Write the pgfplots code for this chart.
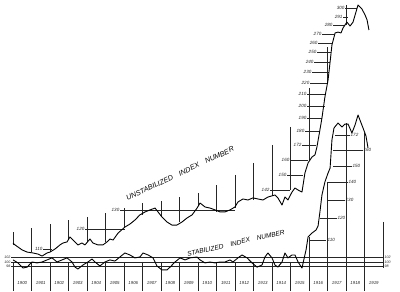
\documentclass[border=0pt]{standalone}
\usepackage{fontspec}
\setmainfont{Liberation Sans}
\usepackage{pgfplots}
\pgfplotsset{compat=1.18}
\begin{document}
\begin{tikzpicture}
\tikzset{
  lab/.style={font=\fontsize{4.6}{5}\selectfont\itshape, inner sep=0.4pt, text=black!85},
  yr/.style={font=\fontsize{4.4}{5}\selectfont\itshape, inner sep=0pt, text=black!85},
}
\begin{axis}[
  width=400bp, height=292bp, scale only axis,
  xmin=1899.297, xmax=1920.919,
  ymode=log, ymin=87.78, ymax=312.2,
  hide axis, clip=false,
]
% invisible frame to fix the picture size
\addplot[draw=none] coordinates {(1899.297,87.78) (1920.919,312.2)};

% band lines 102 / 100 / 98
\addplot[black!85, line width=0.45bp] coordinates {(1899.89,102) (1920.0,102)};
\addplot[black!85, line width=0.8bp] coordinates {(1899.89,100) (1920.0,100)};
\addplot[black!85, line width=0.45bp] coordinates {(1899.89,98) (1920.0,98)};

% year separators and ladder verticals
\addplot[black!85, line width=0.5bp, empty line=jump] table {
x y
1900.0 113.9
1900.0 107.7

1901.0 115.9
1901.0 104.4

1902.0 117.9
1902.0 104.4

1903.0 120.0
1903.0 110.0

1904.0 121.6
1904.0 109.1

1905.0 123.7
1905.0 109.1

1906.0 126.4
1906.0 115.9

1907.0 129.2
1907.0 122.7

1908.0 130.3
1908.0 122.1

1909.0 132.6
1909.0 119.0

1910.0 135.0
1910.0 128.1

1911.0 139.7
1911.0 124.3

1912.0 146.0
1912.0 126.4

1913.0 153.8
1913.0 130.9

1914.0 166.3
1914.0 133.2

1915.0 179.8
1915.0 136.7

1916.0 213.0
1916.0 155.8

1917.0 254.4
1917.0 218.6

1918.0 305.5
1918.0 280.0

1900.0 100.0
1900.0 88.2

1901.0 100.0
1901.0 88.2

1902.0 100.0
1902.0 88.2

1903.0 100.0
1903.0 88.2

1904.0 100.0
1904.0 88.2

1905.0 100.0
1905.0 88.2

1906.0 100.0
1906.0 88.2

1907.0 100.0
1907.0 88.2

1908.0 100.0
1908.0 88.2

1909.0 100.0
1909.0 88.2

1910.0 100.0
1910.0 88.2

1911.0 100.0
1911.0 88.2

1912.0 100.0
1912.0 88.2

1913.0 100.0
1913.0 88.2

1914.0 100.0
1914.0 88.2

1915.0 100.0
1915.0 88.2

1916.0 111.5
1916.0 88.2

1917.0 141.0
1917.0 88.2

1918.0 182.9
1918.0 88.2

1919.0 175.2
1919.0 88.2

1920.0 119.0
1920.0 97.4
};

% ladder horizontals
\addplot[black!85, line width=0.45bp, empty line=jump] table {
x y
1901.62 105.8
1902.11 105.8

1903.89 115.4
1906.05 115.4

1905.78 125.4
1912.00 125.4

1913.89 136.7
1914.97 136.7

1914.81 146.0
1915.68 146.0

1914.97 155.8
1915.95 155.8

1915.62 166.3
1916.38 166.3

1915.78 176.7
1916.59 176.7

1915.89 187.0
1916.70 187.0

1915.89 196.9
1916.86 196.9

1915.89 207.5
1916.92 207.5

1916.05 217.7
1917.03 217.7

1916.16 228.3
1917.08 228.3

1916.27 238.4
1917.14 238.4

1916.43 249.0
1917.19 249.0

1916.49 259.0
1917.24 259.0

1916.70 269.3
1917.35 269.3

1917.30 280.0
1917.95 280.0

1917.84 289.8
1918.11 289.8

1917.95 301.5
1918.59 301.5

1916.05 110.0
1916.92 110.0

1916.59 121.1
1917.51 121.1

1916.97 130.9
1917.95 130.9

1916.97 141.6
1918.11 141.6

1917.30 151.8
1918.32 151.8

1917.41 173.6
1918.22 173.6

1917.30 162.7
1918.92 162.7
};

% unstabilized index number
\addplot[black, line width=0.9bp, line join=round] table {
x y
1900.00 108.6
1900.11 107.7
1900.49 105.4
1900.76 104.4
1901.08 104.0
1901.35 103.5
1901.57 102.6
1901.84 104.0
1902.00 104.4
1902.27 105.8
1902.54 107.7
1902.70 108.6
1902.92 109.1
1903.08 111.5
1903.24 110.0
1903.51 107.7
1903.73 108.6
1903.89 107.7
1904.16 110.5
1904.32 108.6
1904.59 107.7
1904.86 107.7
1905.08 109.1
1905.24 110.5
1905.41 110.0
1905.68 113.4
1906.05 116.4
1906.32 117.9
1906.59 120.0
1906.86 122.7
1907.14 124.3
1907.41 125.4
1907.68 126.4
1907.84 124.3
1908.05 121.6
1908.32 119.0
1908.59 117.4
1908.86 117.4
1909.14 119.0
1909.41 121.1
1909.68 122.7
1909.95 126.4
1910.11 129.2
1910.38 127.0
1910.65 126.4
1910.92 125.4
1911.19 124.3
1911.46 124.3
1911.73 125.4
1912.00 127.0
1912.16 129.8
1912.43 131.5
1912.70 130.9
1912.97 132.1
1913.24 131.5
1913.51 130.9
1913.78 132.6
1914.16 133.8
1914.32 132.1
1914.54 128.1
1914.70 132.6
1914.86 130.9
1915.08 135.5
1915.24 137.9
1915.41 136.7
1915.62 135.5
1915.78 147.2
1915.95 153.8
1916.16 157.8
1916.32 159.2
1916.43 164.9
1916.59 177.5
1916.70 187.0
1916.86 204.8
1917.03 220.5
1917.14 238.4
1917.24 256.7
1917.41 270.5
1917.57 271.5
1917.73 270.5
1917.84 276.4
1918.05 283.6
1918.22 278.8
1918.38 283.6
1918.65 305.5
1918.86 300.2
1919.03 292.5
1919.14 286.2
1919.24 274.0
};

% stabilized index number (and its rise after 1915)
\addplot[black, line width=0.9bp, line join=round] table {
x y
1900.00 100.9
1900.27 99.6
1900.54 97.4
1900.76 97.8
1901.03 100.0
1901.30 99.6
1901.57 100.0
1901.84 100.9
1902.11 101.8
1902.38 100.0
1902.65 100.9
1902.92 101.8
1903.19 100.0
1903.35 97.8
1903.51 97.0
1903.78 98.7
1904.05 100.0
1904.27 101.3
1904.43 100.0
1904.70 98.3
1904.97 100.0
1905.24 100.9
1905.51 100.4
1905.78 102.2
1906.05 104.0
1906.32 103.1
1906.59 101.8
1906.86 102.2
1907.03 104.0
1907.30 103.1
1907.57 101.8
1907.78 98.3
1908.05 96.6
1908.32 96.6
1908.49 97.8
1908.76 100.0
1909.03 101.8
1909.30 100.9
1909.57 101.8
1909.95 102.2
1910.11 100.9
1910.38 99.6
1910.65 100.0
1910.92 99.6
1911.19 100.0
1911.46 100.0
1911.73 100.9
1911.89 100.0
1912.16 101.8
1912.38 103.1
1912.65 101.8
1912.92 99.6
1913.19 97.8
1913.46 98.7
1913.62 102.2
1913.78 104.0
1914.00 101.8
1914.16 98.7
1914.32 97.8
1914.54 100.0
1914.70 104.0
1914.86 101.8
1915.08 103.1
1915.24 103.1
1915.41 100.0
1915.62 97.4
1915.84 105.4
1915.95 111.5
1916.16 113.4
1916.38 114.9
1916.49 116.9
1916.59 124.3
1916.70 133.8
1916.86 141.6
1917.03 147.2
1917.14 150.4
1917.24 169.9
1917.35 179.0
1917.57 182.9
1917.78 179.8
1917.95 182.1
1918.11 182.1
1918.32 175.2
1918.49 181.4
1918.65 189.4
1918.92 179.0
1919.08 172.9
1919.19 164.1
};

% ladder labels, upper curve
\node[lab, anchor=east] at (axis cs:1901.62,105.8) {110};
\node[lab, anchor=east] at (axis cs:1903.89,115.4) {120};
\node[lab, anchor=east] at (axis cs:1905.78,125.4) {130};
\node[lab, anchor=east] at (axis cs:1913.89,136.7) {142};
\node[lab, anchor=east] at (axis cs:1914.81,146.0) {150};
\node[lab, anchor=east] at (axis cs:1914.97,155.8) {160};
\node[lab, anchor=east] at (axis cs:1915.62,166.3) {172};
\node[lab, anchor=east] at (axis cs:1915.78,176.7) {180};
\node[lab, anchor=east] at (axis cs:1915.89,187.0) {190};
\node[lab, anchor=east] at (axis cs:1915.89,196.9) {200};
\node[lab, anchor=east] at (axis cs:1915.89,207.5) {210};
\node[lab, anchor=east] at (axis cs:1916.05,217.7) {220};
\node[lab, anchor=east] at (axis cs:1916.16,228.3) {230};
\node[lab, anchor=east] at (axis cs:1916.27,238.4) {240};
\node[lab, anchor=east] at (axis cs:1916.43,249.0) {250};
\node[lab, anchor=east] at (axis cs:1916.49,259.0) {260};
\node[lab, anchor=east] at (axis cs:1916.70,269.3) {270};
\node[lab, anchor=east] at (axis cs:1917.30,280.0) {280};
\node[lab, anchor=east] at (axis cs:1917.84,289.8) {291};
\node[lab, anchor=east] at (axis cs:1917.95,301.5) {300};
% ladder labels, lower curve
\node[lab, anchor=west] at (axis cs:1916.97,110.0) {110};
\node[lab, anchor=west] at (axis cs:1917.51,121.1) {120};
\node[lab, anchor=west] at (axis cs:1917.95,130.9) {130};
\node[lab, anchor=west] at (axis cs:1918.11,141.6) {140};
\node[lab, anchor=west] at (axis cs:1918.32,151.8) {150};
\node[lab, anchor=west] at (axis cs:1918.22,173.6) {172};
\node[lab, anchor=west] at (axis cs:1918.92,162.7) {160};

% band labels
\node[lab, anchor=east, font=\fontsize{3.6}{4}\selectfont\itshape] at (axis cs:1899.89,102) {102};
\node[lab, anchor=east, font=\fontsize{3.6}{4}\selectfont\itshape] at (axis cs:1899.89,100) {100};
\node[lab, anchor=east, font=\fontsize{3.6}{4}\selectfont\itshape] at (axis cs:1899.89,98) {98};
\node[lab, anchor=west, font=\fontsize{3.6}{4}\selectfont\itshape] at (axis cs:1920.05,102) {102};
\node[lab, anchor=west, font=\fontsize{3.6}{4}\selectfont\itshape] at (axis cs:1920.05,100) {100};
\node[lab, anchor=west, font=\fontsize{3.6}{4}\selectfont\itshape] at (axis cs:1920.05,98) {98};

% year labels
\node[yr] at (axis cs:1900.5,91.3) {1900};
\node[yr] at (axis cs:1901.5,91.3) {1901};
\node[yr] at (axis cs:1902.5,91.3) {1902};
\node[yr] at (axis cs:1903.5,91.3) {1903};
\node[yr] at (axis cs:1904.5,91.3) {1904};
\node[yr] at (axis cs:1905.5,91.3) {1905};
\node[yr] at (axis cs:1906.5,91.3) {1906};
\node[yr] at (axis cs:1907.5,91.3) {1907};
\node[yr] at (axis cs:1908.5,91.3) {1908};
\node[yr] at (axis cs:1909.5,91.3) {1909};
\node[yr] at (axis cs:1910.5,91.3) {1910};
\node[yr] at (axis cs:1911.5,91.3) {1911};
\node[yr] at (axis cs:1912.5,91.3) {1912};
\node[yr] at (axis cs:1913.5,91.3) {1913};
\node[yr] at (axis cs:1914.5,91.3) {1914};
\node[yr] at (axis cs:1915.5,91.3) {1915};
\node[yr] at (axis cs:1916.5,91.3) {1916};
\node[yr] at (axis cs:1917.5,91.3) {1917};
\node[yr] at (axis cs:1918.5,91.3) {1918};
\node[yr] at (axis cs:1919.5,91.3) {1919};

% series titles
\node[rotate=25, inner sep=0pt, font=\fontsize{7.2}{8}\selectfont\itshape]
  at (axis cs:1909.03,146.9) {UNSTABILIZED\hspace{7bp}INDEX\hspace{7bp}NUMBER};
\node[rotate=13, inner sep=0pt, font=\fontsize{6.6}{7}\selectfont\itshape]
  at (axis cs:1912.05,108.6) {STABILIZED\hspace{7bp}INDEX\hspace{7bp}NUMBER};
\end{axis}
\end{tikzpicture}
\end{document}
